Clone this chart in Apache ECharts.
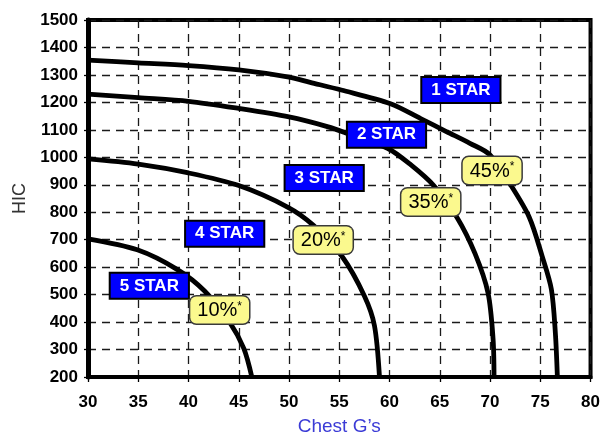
<!DOCTYPE html>
<html>
<head>
<meta charset="utf-8">
<script src="https://cdn.jsdelivr.net/npm/echarts@6/dist/echarts.min.js"></script>
<style>
  html, body { margin: 0; padding: 0; background: #fff; }
  #chart { width: 603px; height: 441px; }
</style>
</head>
<body>
<div id="chart"></div>
<script>
// injury risk curves, [chest G's, HIC]
const curve45 = [[30, 1354], [35, 1344], [40, 1334], [45, 1318], [50, 1292], [52.1, 1273], [55.2, 1245], [60.1, 1195], [63.1, 1141], [65.7, 1093], [68, 1051], [70, 1009], [71.9, 908], [73.9, 782], [75.2, 638], [76.1, 520], [76.5, 360], [76.7, 200]]
const curve35 = [[30, 1230], [35, 1217], [40, 1204], [45, 1178], [50, 1147], [53.9, 1111], [55.8, 1087], [59.8, 1033], [62.1, 973], [64.4, 897], [66.7, 782], [68.5, 650], [69.8, 506], [70.3, 340], [70.4, 200]]
const curve20 = [[30, 994], [35, 975], [40, 943], [45, 897], [49.9, 818], [52.4, 753], [55.3, 638], [57.5, 495], [58.5, 387], [59, 200]]
const curve10 = [[30, 703], [34.9, 663], [38.9, 591], [41.6, 513], [44.1, 399], [45.5, 304], [46.3, 200]]

// star rating labels
const starNames = ['1 STAR', '2 STAR', '3 STAR', '4 STAR', '5 STAR']
const starX = [67.1, 59.7, 53.5, 43.6, 36.1]
const starY = [1245, 1082, 925, 722, 532]

// risk percentage labels
const pctNames = ['45%', '35%', '20%', '10%']
const pctX = [70.2, 64.1, 53.4, 43.1]
const pctY = [952, 837, 699, 444]

const chart = echarts.init(document.getElementById('chart'))

function curve(data) {
  return {
    type: 'line',
    data: data,
    smooth: 0.3,
    symbol: 'none',
    lineStyle: { color: '#000', width: 4.8 },
    z: 3
  }
}

const gridDash = { color: '#1a1a1a', width: 1.3, type: [8, 6] }

const option = {
  animation: false,
  textStyle: { fontFamily: 'Liberation Sans, Arial, sans-serif' },
  grid: {
    left: 88, right: 8, top: 20, bottom: 59,
    show: true, borderColor: '#000', borderWidth: 4, backgroundColor: '#fff'
  },
  xAxis: {
    type: 'value',
    min: 30, max: 80, interval: 5,
    name: 'Chest G\u2019s',
    nameLocation: 'middle',
    nameGap: 40,
    nameTextStyle: { color: '#3b3bd6', fontSize: 19 },
    axisLine: { lineStyle: { color: '#000', width: 4 } },
    axisTick: { show: true, length: 5, lineStyle: { color: '#000', width: 1.3 } },
    axisLabel: { color: '#000', fontSize: 17, fontWeight: 'bold', margin: 17 },
    splitLine: { show: true, lineStyle: gridDash }
  },
  yAxis: {
    type: 'value',
    min: 200, max: 1500, interval: 100,
    name: 'HIC',
    nameLocation: 'middle',
    nameGap: 58,
    nameTextStyle: { color: '#333', fontSize: 18 },
    axisLine: { show: true, lineStyle: { color: '#000', width: 5 } },
    axisTick: { show: true, length: 4, lineStyle: { color: '#000', width: 1.3 } },
    axisLabel: { color: '#000', fontSize: 17, fontWeight: 'bold', margin: 10, formatter: v => String(v) },
    splitLine: { show: true, lineStyle: gridDash }
  },
  series: [
    curve(curve45),
    curve(curve35),
    curve(curve20),
    curve(curve10),
    {
      type: 'scatter',
      symbolSize: 1,
      itemStyle: { color: 'transparent', opacity: 1 },
      z: 5,
      data: starNames.map((n, i) => ({ name: n, value: [starX[i], starY[i]] })),
      label: {
        show: true,
        position: 'inside',
        formatter: '{b}',
        color: '#fff',
        fontSize: 17,
        fontWeight: 'bold',
        backgroundColor: '#0000ff',
        borderColor: '#000',
        borderWidth: 2,
        padding: [4, 9, 3, 9]
      }
    },
    {
      type: 'scatter',
      symbolSize: 1,
      itemStyle: { color: 'transparent', opacity: 1 },
      z: 5,
      data: pctNames.map((n, i) => ({ name: n, value: [pctX[i], pctY[i]] })),
      label: {
        show: true,
        position: 'inside',
        formatter: p => '{a|' + p.name + '}{s|*}',
        backgroundColor: '#fbf98e',
        borderColor: '#3a3a3a',
        borderWidth: 1.5,
        borderRadius: 6,
        padding: [4, 7, 3, 7],
        rich: {
          a: { fontSize: 20, color: '#000', lineHeight: 20 },
          s: { fontSize: 12, color: '#000', verticalAlign: 'top', lineHeight: 20 }
        }
      }
    }
  ]
}

chart.setOption(option)
</script>
</body>
</html>
